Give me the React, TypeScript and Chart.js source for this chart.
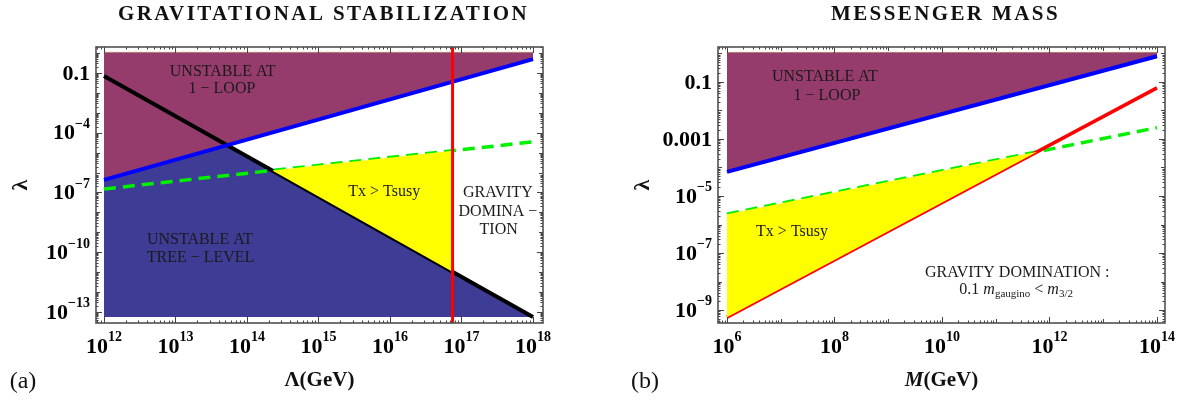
import React, { useEffect, useRef } from "react";
import { Chart, registerables } from "chart.js";

Chart.register(...registerables);

const SERIF = '"Liberation Serif", "Times New Roman", Times, serif';

// ---------- Panel (a): gravitational stabilization ----------
const cutoffA = [1e12, 1e18]; // Λ (GeV) at both ends of every bound
const oneLoopA = [4.3e-7, 0.5]; // blue: 1-loop stability bound
const treeLevelA = [7.1e-2, 5.6e-14]; // black: tree-level stability bound
const thermalA = [1.5e-7, 3.5e-5]; // green dashed: Tx = Tsusy
const gravityCutoffA = 7.5e16; // red: gravity domination
const lambdaTop = 1.1;
const lambdaFloorA = 5.6e-14;
const xTicksA = [1e12, 1e13, 1e14, 1e15, 1e16, 1e17, 1e18];
const xTickLabelsA = ["10^12", "10^13", "10^14", "10^15", "10^16", "10^17", "10^18"];
const yTicksA = [1e-1, 1e-4, 1e-7, 1e-10, 1e-13];
const yTickLabelsA = ["0.1", "10^-4", "10^-7", "10^-10", "10^-13"];

// ---------- Panel (b): messenger mass ----------
const massB = [1e6, 1e14]; // M (GeV)
const oneLoopB = [7e-5, 0.8]; // blue
const gravityB = [5.6e-10, 6.2e-2]; // red
const thermalB = [2.3e-6, 2.5e-3]; // green dashed
const xTicksB = [1e6, 1e8, 1e10, 1e12, 1e14];
const xTickLabelsB = ["10^6", "10^8", "10^10", "10^12", "10^14"];
const yTicksB = [1e-1, 1e-3, 1e-5, 1e-7, 1e-9];
const yTickLabelsB = ["0.1", "0.001", "10^-5", "10^-7", "10^-9"];

const PURPLE = "#963C6C";
const NAVY = "#3F3C96";
const YELLOW = "#FFFF00";
const GREEN = "#00F000";
const BLUE = "#0000FF";
const RED = "#FF0000";

const lg = Math.log10;
// value of a straight log-log line through (xs[i], ys[i]) at x
function at(xs: number[], ys: number[], x: number) {
  const t = (lg(x) - lg(xs[0])) / (lg(xs[1]) - lg(xs[0]));
  return Math.pow(10, lg(ys[0]) + t * (lg(ys[1]) - lg(ys[0])));
}
// crossing abscissa of two log-log lines sharing xs
function cross(xs: number[], ya: number[], yb: number[]) {
  const d0 = lg(ya[0]) - lg(yb[0]);
  const d1 = lg(ya[1]) - lg(yb[1]);
  const t = d0 / (d0 - d1);
  return Math.pow(10, lg(xs[0]) + t * (lg(xs[1]) - lg(xs[0])));
}
const pts = (arr: number[][]) => arr.map(([x, y]) => ({ x, y }));

type Run = { t: string; font: string; dy?: number };
type Label = { x: number; y: number; text?: string; runs?: Run[] };

const f = (s: string) => s + " " + SERIF;

function drawRuns(ctx: CanvasRenderingContext2D, runs: Run[], cx: number, cy: number, align = "center") {
  let total = 0;
  const widths = runs.map((r) => {
    ctx.font = r.font;
    const w = ctx.measureText(r.t).width;
    total += w;
    return w;
  });
  let x = align === "center" ? cx - total / 2 : align === "right" ? cx - total : cx;
  ctx.textAlign = "left";
  ctx.textBaseline = "middle";
  runs.forEach((r, i) => {
    ctx.font = r.font;
    ctx.fillText(r.t, x, cy + (r.dy || 0));
    x += widths[i];
  });
}

function powRuns(label: string, size: number): Run[] {
  const [base, exp] = label.split("^");
  const runs: Run[] = [{ t: base, font: f(`bold ${size}px`) }];
  if (exp) runs.push({ t: exp.replace("-", "\u2212"), font: f(`bold ${Math.round(size * 0.64)}px`), dy: -size * 0.42 });
  return runs;
}

type Spec = {
  left: number;
  padding: { left: number; top: number; right: number; bottom: number };
  range: { x: number[]; y: number[] };
  datasets: any[];
  xTicks: number[];
  xTickLabels: string[];
  yTicks: number[];
  yTickLabels: string[];
  labels: Label[];
  title: string;
  xTitle: Run[];
  tag: string;
};

function decorPlugin(spec: Spec) {
  return {
    id: "decor",
    afterDatasetsDraw(chart: any) {
      const ctx: CanvasRenderingContext2D = chart.ctx;
      const a = chart.chartArea;
      const xs = chart.scales.x;
      const ys = chart.scales.y;
      ctx.save();
      const isIn = (v: number, list: number[]) => list.some((t) => Math.abs(lg(v) - lg(t)) < 1e-6);
      const values = (min: number, max: number) => {
        const out: { v: number; m: number }[] = [];
        for (let n = Math.floor(lg(min)); n <= Math.ceil(lg(max)); n++) {
          for (let m = 1; m <= 9; m++) {
            const v = m * Math.pow(10, n);
            if (v >= min && v <= max) out.push({ v, m });
          }
        }
        return out;
      };
      ctx.strokeStyle = "#444";
      ctx.lineWidth = 1;
      ctx.beginPath();
      for (const { v, m } of values(xs.min, xs.max)) {
        const len = isIn(v, spec.xTicks) ? 6 : m === 1 ? 4 : 2.5;
        const px = Math.round(xs.getPixelForValue(v)) + 0.5;
        ctx.moveTo(px, a.bottom);
        ctx.lineTo(px, a.bottom - len);
        ctx.moveTo(px, a.top);
        ctx.lineTo(px, a.top + len);
      }
      for (const { v, m } of values(ys.min, ys.max)) {
        const len = isIn(v, spec.yTicks) ? 6 : m === 1 ? 4 : 2.5;
        const py = Math.round(ys.getPixelForValue(v)) + 0.5;
        ctx.moveTo(a.left, py);
        ctx.lineTo(a.left + len, py);
        ctx.moveTo(a.right, py);
        ctx.lineTo(a.right - len, py);
      }
      ctx.stroke();
      ctx.strokeStyle = "#505050";
      ctx.lineWidth = 1.6;
      ctx.strokeRect(a.left, a.top, a.right - a.left, a.bottom - a.top);

      // tick labels
      ctx.fillStyle = "#000";
      spec.xTicks.forEach((v, i) => {
        drawRuns(ctx, powRuns(spec.xTickLabels[i], 22), xs.getPixelForValue(v), a.bottom + 24);
      });
      spec.yTicks.forEach((v, i) => {
        drawRuns(ctx, powRuns(spec.yTickLabels[i], 22), a.left - 6, ys.getPixelForValue(v) + 1, "right");
      });

      // region labels
      ctx.fillStyle = "#1a1a1a";
      for (const l of spec.labels) {
        const runs = l.runs || [{ t: l.text || "", font: f("16px") }];
        drawRuns(ctx, runs, xs.getPixelForValue(l.x), ys.getPixelForValue(l.y));
      }

      // titles
      ctx.fillStyle = "#111";
      const cx = (a.left + a.right) / 2;
      (ctx as any).letterSpacing = "2.4px";
      ctx.font = f("bold 21px");
      ctx.textAlign = "center";
      ctx.textBaseline = "middle";
      ctx.fillText(spec.title, cx + 4, 15);
      (ctx as any).letterSpacing = "0px";
      drawRuns(ctx, spec.xTitle, cx, 381);
      drawRuns(ctx, [{ t: spec.tag, font: f("24px") }], a.left - 73, 382);
      ctx.save();
      ctx.translate(a.left - 75, (a.top + a.bottom) / 2);
      ctx.rotate(-Math.PI / 2);
      drawRuns(ctx, [{ t: "λ", font: f("bold 22px") }], 0, 0);
      ctx.restore();
      ctx.restore();
    },
  };
}

function line(data: { x: number; y: number }[], color: string, width: number, order: number, dash: number[] = []) {
  return {
    data,
    showLine: true,
    borderColor: color,
    borderWidth: width,
    borderDash: dash,
    borderCapStyle: "butt",
    pointRadius: 0,
    fill: false,
    order,
  };
}
function shape(data: { x: number; y: number }[], color: string, order: number) {
  return {
    data,
    showLine: true,
    borderWidth: 0,
    borderColor: color,
    backgroundColor: color,
    pointRadius: 0,
    fill: "shape",
    order,
  };
}

function specA(): Spec {
  const [x0, x1] = cutoffA;
  const xc1 = cross(cutoffA, oneLoopA, treeLevelA);
  const xc2 = cross(cutoffA, treeLevelA, thermalA);
  const r = gravityCutoffA;
  const range = { x: [7.73e11, 1.38e18], y: [2.8e-14, 2.02] };
  return {
    left: 0,
    padding: { left: 96, top: 47, right: 50, bottom: 80 },
    range,
    datasets: [
      shape(pts([[x0, lambdaFloorA], [x0, oneLoopA[0]], [xc1, at(cutoffA, oneLoopA, xc1)], [x1, treeLevelA[1]], [x1, lambdaFloorA]]), NAVY, 7),
      shape(pts([[x0, lambdaTop], [x0, oneLoopA[0]], [x1, oneLoopA[1]], [x1, lambdaTop]]), PURPLE, 6),
      line(pts([[x0, lambdaTop], [x1, lambdaTop]]), "#b09a5a", 1, 5, [3, 3]),
      line(pts([[x0, treeLevelA[0]], [x1, treeLevelA[1]]]), "#000", 4, 4),
      line(pts([[x0, oneLoopA[0]], [x1, oneLoopA[1]]]), BLUE, 4, 3),
      line(pts([[x0, thermalA[0]], [x1, thermalA[1]]]), GREEN, 3.5, 2, [12, 7]),
      shape(pts([[xc2, at(cutoffA, treeLevelA, xc2)], [r, at(cutoffA, treeLevelA, r)], [r, at(cutoffA, thermalA, r)]]), YELLOW, 1),
      line(pts([[r, range.y[0]], [r, range.y[1]]]), RED, 3, 0),
    ],
    xTicks: xTicksA,
    xTickLabels: xTickLabelsA,
    yTicks: yTicksA,
    yTickLabels: yTickLabelsA,
    labels: [
      { text: "UNSTABLE AT", x: 10 ** 13.66, y: 10 ** -0.95 },
      { text: "1 \u2212 LOOP", x: 10 ** 13.65, y: 10 ** -1.8 },
      { text: "Tx > Tsusy", x: 10 ** 15.92, y: 10 ** -6.97 },
      { text: "GRAVITY", x: 10 ** 17.51, y: 10 ** -7.02 },
      { text: "DOMINA \u2212", x: 10 ** 17.51, y: 10 ** -7.98 },
      { text: "TION", x: 10 ** 17.52, y: 10 ** -8.88 },
      { text: "UNSTABLE AT", x: 10 ** 13.34, y: 10 ** -9.38 },
      { text: "TREE \u2212 LEVEL", x: 10 ** 13.35, y: 10 ** -10.29 },
    ],
    title: "GRAVITATIONAL STABILIZATION",
    xTitle: [{ t: "Λ(GeV)", font: f("bold 21px") }],
    tag: "(a)",
  };
}

function specB(): Spec {
  const [x0, x1] = massB;
  const xg = cross(massB, gravityB, thermalB);
  const range = { x: [6.8e5, 1.41e14], y: [3.5e-10, 1.69] };
  return {
    left: 593,
    padding: { left: 125, top: 47, right: 21, bottom: 80 },
    range,
    datasets: [
      shape(pts([[x0, lambdaTop], [x0, oneLoopB[0]], [x1, oneLoopB[1]], [x1, lambdaTop]]), PURPLE, 6),
      line(pts([[x0, lambdaTop], [x1, lambdaTop]]), "#b09a5a", 1, 5, [3, 3]),
      line(pts([[x0, oneLoopB[0]], [x1, oneLoopB[1]]]), BLUE, 4, 4),
      line(pts([[x0, thermalB[0]], [x1, thermalB[1]]]), GREEN, 3.5, 3, [12, 7]),
      line(pts([[x0, gravityB[0]], [x1, gravityB[1]]]), RED, 3.5, 2),
      shape(pts([[x0, gravityB[0]], [xg, at(massB, gravityB, xg)], [x0, thermalB[0]]]), YELLOW, 1),
    ],
    xTicks: xTicksB,
    xTickLabels: xTickLabelsB,
    yTicks: yTicksB,
    yTickLabels: yTickLabelsB,
    labels: [
      { text: "UNSTABLE AT", x: 10 ** 7.82, y: 10 ** -0.82 },
      { text: "1 \u2212 LOOP", x: 10 ** 7.86, y: 10 ** -1.49 },
      { text: "Tx > Tsusy", x: 10 ** 7.21, y: 10 ** -6.26 },
      { text: "GRAVITY DOMINATION :", x: 10 ** 11.4, y: 10 ** -7.7 },
      {
        x: 10 ** 11.38,
        y: 10 ** -8.3,
        runs: [
          { t: "0.1 ", font: f("16px") },
          { t: "m", font: f("italic 16px") },
          { t: "gaugino", font: f("11px"), dy: 4 },
          { t: " < ", font: f("16px") },
          { t: "m", font: f("italic 16px") },
          { t: "3/2", font: f("11px"), dy: 4 },
        ],
      },
    ],
    title: "MESSENGER MASS",
    xTitle: [
      { t: "M", font: f("bold italic 21px") },
      { t: "(GeV)", font: f("bold 21px") },
    ],
    tag: "(b)",
  };
}

function Panel({ spec }: { spec: Spec }) {
  const ref = useRef<HTMLCanvasElement>(null);
  useEffect(() => {
    const chart = new Chart(ref.current as HTMLCanvasElement, {
      type: "scatter",
      data: { datasets: spec.datasets },
      options: {
        responsive: false,
        animation: false,
        devicePixelRatio: 1,
        events: [],
        layout: { padding: spec.padding },
        plugins: { legend: { display: false }, tooltip: { enabled: false } },
        scales: {
          x: { type: "logarithmic", min: spec.range.x[0], max: spec.range.x[1], display: false },
          y: { type: "logarithmic", min: spec.range.y[0], max: spec.range.y[1], display: false },
        },
      } as any,
      plugins: [decorPlugin(spec) as any],
    });
    return () => chart.destroy();
  }, [spec]);
  return (
    <canvas
      ref={ref}
      width={593}
      height={403}
      style={{ position: "absolute", left: spec.left, top: 0, width: 593, height: 403 }}
    />
  );
}

const SPEC_A = specA();
const SPEC_B = specB();

export default function App() {
  return (
    <div style={{ position: "absolute", left: 0, top: 0, width: 1186, height: 403, background: "#fff" }}>
      <Panel spec={SPEC_A} />
      <Panel spec={SPEC_B} />
    </div>
  );
}
